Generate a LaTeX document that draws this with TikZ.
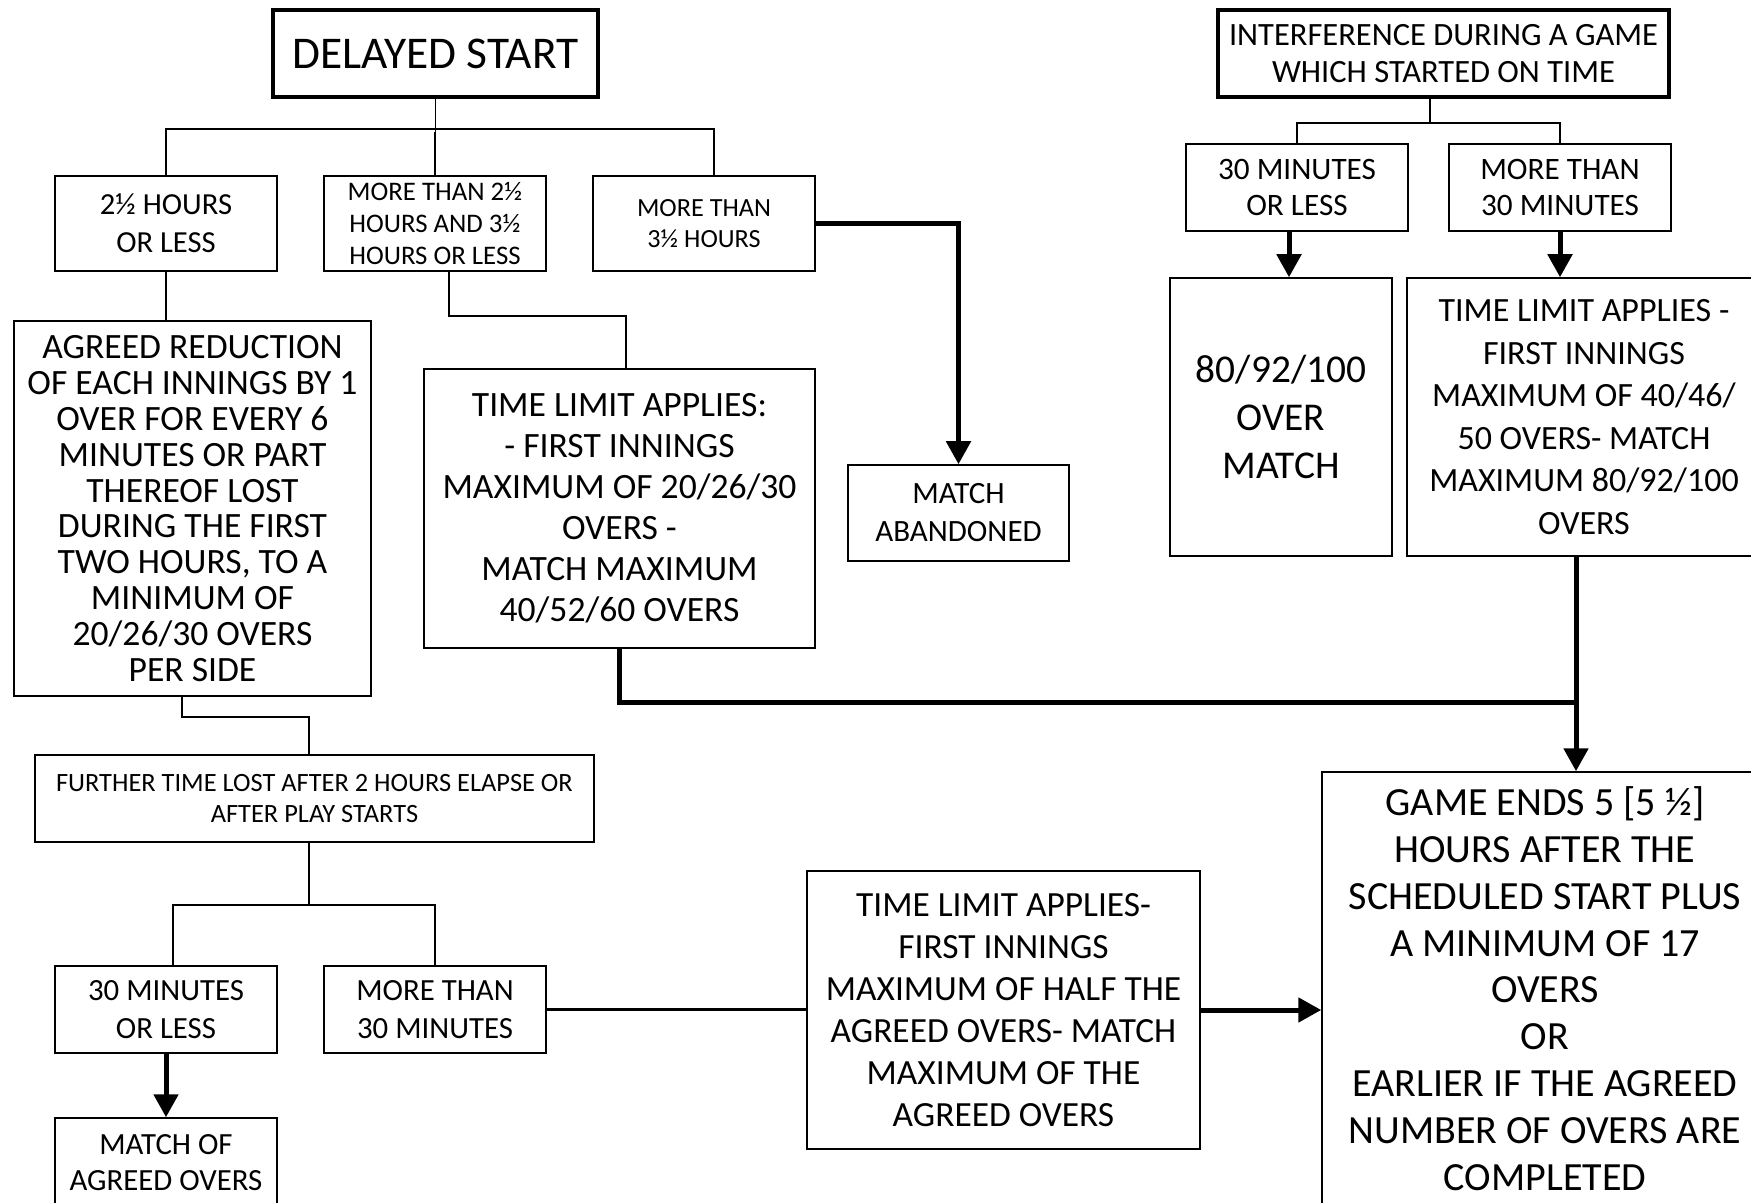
\documentclass[tikz,border=0pt]{standalone}
\usepackage{fontspec}
\setmainfont{Carlito}
\usetikzlibrary{arrows.meta,calc}
\newcommand{\myfs}[2]{\fontsize{#1}{#2}\selectfont}
\tikzset{
  box/.style={draw, line width=0.75pt, inner sep=0pt, align=center, fill=white},
  heavybox/.style={box, line width=2.25pt},
  thinline/.style={line width=0.8pt},
  heavyline/.style={line width=2.5pt},
  arr/.style={heavyline, -{Triangle[length=11.5pt,width=12pt]}}
}
\begin{document}
\begin{tikzpicture}[x=0.5pt,y=-0.5pt]
\useasboundingbox (0,0) rectangle (1751,1203);
\fill[white] (0,0) rectangle (1751,1203);
\clip (0,0) rectangle (1751,1203);

\node[heavybox, minimum width=162.5pt, minimum height=43.5pt, font=\myfs{22.7}{27}] (ds) at (435.5,53.5) {DELAYED START};
\node[heavybox, minimum width=225.5pt, minimum height=43.5pt, font=\myfs{16.25}{18.35}] (itf) at (1443.5,53.5) {INTERFERENCE DURING A GAME\\WHICH STARTED ON TIME};

\node[box, minimum width=111pt, minimum height=47.5pt, font=\myfs{15.3}{19}] (a) at (166,223.5) {2½ HOURS\\OR LESS};
\node[box, minimum width=111pt, minimum height=47.5pt, font=\myfs{13.4}{15.8}] (b) at (435,223.5) {MORE THAN 2½\\HOURS AND 3½\\HOURS OR LESS};
\node[box, minimum width=111pt, minimum height=47.5pt, font=\myfs{13.1}{15.7}] (c) at (704,223.5) {MORE THAN\\3½ HOURS};

\node[box, minimum width=178.5pt, minimum height=187.5pt, font=\myfs{17.8}{17.9}] (d) at (192.5,508.5) {AGREED REDUCTION\\OF EACH INNINGS BY 1\\OVER FOR EVERY 6\\MINUTES OR PART\\THEREOF LOST\\DURING THE FIRST\\TWO HOURS, TO A\\MINIMUM OF\\20/26/30 OVERS\\PER SIDE};
\node[box, minimum width=195.5pt, minimum height=139.5pt, font=\myfs{17.8}{20.5}] (e) at (619.5,508.5) {TIME LIMIT APPLIES:\\- FIRST INNINGS\\MAXIMUM OF 20/26/30\\OVERS -\\MATCH MAXIMUM\\40/52/60 OVERS};
\node[box, minimum width=110.5pt, minimum height=48pt, font=\myfs{15.5}{19}] (f) at (958.5,513) {MATCH\\ABANDONED};

\node[box, minimum width=111pt, minimum height=43.5pt, font=\myfs{15.6}{18.35}] (j) at (1297,187.5) {30 MINUTES\\OR LESS};
\node[box, minimum width=111pt, minimum height=43.5pt, font=\myfs{15.6}{18.35}] (k) at (1560,187.5) {MORE THAN\\30 MINUTES};
\node[box, minimum width=111pt, minimum height=139pt, font=\myfs{19.7}{24.2}] (g) at (1281,417) {80/92/100\\OVER\\MATCH};
\node[box, minimum width=177pt, minimum height=139pt, font=\myfs{17}{21.3}] (h) at (1584,417) {TIME LIMIT APPLIES -\\FIRST INNINGS\\MAXIMUM OF 40/46/\\50 OVERS- MATCH\\MAXIMUM 80/92/100\\OVERS};

\node[box, minimum width=279.5pt, minimum height=43.5pt, font=\myfs{13.2}{15.8}] (l) at (314.5,798.5) {FURTHER TIME LOST AFTER 2 HOURS ELAPSE OR\\AFTER PLAY STARTS};
\node[box, minimum width=111pt, minimum height=43.5pt, font=\myfs{15.4}{19.2}] (m) at (166,1009.5) {30 MINUTES\\OR LESS};
\node[box, minimum width=111pt, minimum height=43.5pt, font=\myfs{15.4}{19.2}] (n) at (435,1009.5) {MORE THAN\\30 MINUTES};
\node[box, minimum width=111pt, minimum height=44.5pt, font=\myfs{15.4}{18.35}] (o) at (166,1162.5) {MATCH OF\\AGREED OVERS};
\node[box, minimum width=196.5pt, minimum height=139pt, font=\myfs{17.7}{21}] (p) at (1003.5,1010) {TIME LIMIT APPLIES-\\FIRST INNINGS\\MAXIMUM OF HALF THE\\AGREED OVERS- MATCH\\MAXIMUM OF THE\\AGREED OVERS};
\node[box, minimum width=223pt, minimum height=216.5pt, font=\myfs{20}{23.4}] (q) at (1545,988.5) {GAME ENDS 5 [5 ½]\\HOURS AFTER THE\\SCHEDULED START PLUS\\A MINIMUM OF 17\\OVERS\\OR\\EARLIER IF THE AGREED\\NUMBER OF OVERS ARE\\COMPLETED};

% delayed start tree
\coordinate (dsj) at ($(ds.south)+(0,33)$);
\draw[thinline] (ds.south) -- (dsj);
\draw[thinline] (a.north) |- ($(c.north)+(10,-46)$) -- ($(c.north)+(10,0)$);
\draw[thinline] (b.north) -- (b.north |- dsj);
\draw[thinline] (a.south) -- (a.south |- d.north);
\draw[thinline] ($(b.south)+(14,0)$) |- ($(e.north)+(6.5,-52)$) -- ($(e.north)+(6.5,0)$);
\draw[arr] (c.east) -| (f.north);

% interference tree
\coordinate (ij) at ($(itf.south)+(-13.5,24)$);
\draw[thinline] ($(itf.south)+(-13.5,0)$) -- (ij);
\draw[thinline] (j.north) |- (ij) -| (k.north);
\draw[arr] ($(j.south)+(-8,0)$) -- ($(g.north)+(8,0)$);
\draw[arr] (k.south) -- (k.south |- h.north);
\draw[arr] ($(h.south)+(-8,0)$) -- ($(q.north)+(31,0)$);
\draw[heavyline] (e.south) |- ($(h.south)+(-8,146)$);

% lower tree
\draw[thinline] ($(d.south)+(-10.5,0)$) |- ($(l.north)+(-5.5,-37)$) -- ($(l.north)+(-5.5,0)$);
\coordinate (lj) at ($(l.south)+(-5.5,62)$);
\draw[thinline] ($(l.south)+(-5.5,0)$) -- (lj);
\draw[thinline] ($(m.north)+(7,0)$) |- (lj) -| (n.north);
\draw[arr] (m.south) -- (o.north);
\draw[line width=1.6pt] (n.east) -- (n.east -| p.west);
\draw[arr] (p.east) -- (p.east -| q.west);
\end{tikzpicture}
\end{document}
